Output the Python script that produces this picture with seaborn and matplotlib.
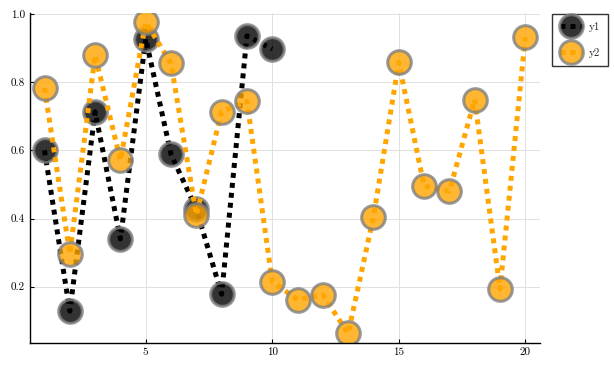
import matplotlib
matplotlib.use('Agg')
import matplotlib.pyplot as plt
import seaborn as sns
import pandas as pd

# Data
x1 = list(range(1, 11))
y1 = [0.600, 0.128, 0.713, 0.340, 0.928, 0.588, 0.428, 0.178, 0.936, 0.897]

x2 = list(range(1, 21))
y2 = [0.783, 0.296, 0.879, 0.571, 0.976, 0.855, 0.411, 0.714, 0.744, 0.215,
      0.162, 0.176, 0.063, 0.405, 0.858, 0.495, 0.480, 0.749, 0.193, 0.932]

xticks = [5, 10, 15, 20]
yticks = [0.2, 0.4, 0.6, 0.8, 1.0]
ytick_labels = ['0.2', '0.4', '0.6', '0.8', '1.0']

sns.set_style('white')
plt.rcParams['font.family'] = ['cmr10', 'DejaVu Serif']
plt.rcParams['axes.unicode_minus'] = False

fig = plt.figure(figsize=(6.14, 3.66), dpi=100)
ax = fig.add_axes([0.049, 0.063, 0.830, 0.901])

df1 = pd.DataFrame({'x': x1, 'y': y1})
df2 = pd.DataFrame({'x': x2, 'y': y2})

common = dict(linestyle=(0, (1, 1)), lw=3.6, marker='o', markersize=17,
              markeredgewidth=2.2, dash_capstyle='butt', ax=ax)

sns.lineplot(data=df1, x='x', y='y', color='black',
             markerfacecolor=(0, 0, 0, 0.8), markeredgecolor=(0.5, 0.5, 0.5, 0.8),
             label='y1', **common)
sns.lineplot(data=df2, x='x', y='y', color='#FFA500',
             markerfacecolor=(1.0, 0.647, 0.0, 0.8), markeredgecolor=(0.5, 0.5, 0.5, 0.8),
             label='y2', **common)

ax.set_xlim(0.43, 20.57)
ax.set_ylim(0.035, 1.0025)
ax.set_xticks(xticks)
ax.set_xticklabels([str(t) for t in xticks])
ax.set_yticks(yticks)
ax.set_yticklabels(ytick_labels)
ax.set_xlabel('')
ax.set_ylabel('')

ax.grid(True, color='#e0e0e0', linewidth=0.7)
ax.tick_params(direction='in', length=3, width=0.8, labelsize=8,
               left=True, bottom=True, colors='black')
for side in ['top', 'right']:
    ax.spines[side].set_visible(False)
for side in ['left', 'bottom']:
    ax.spines[side].set_color('black')
    ax.spines[side].set_linewidth(1.0)

leg = ax.legend(loc='upper left', bbox_to_anchor=(0.899, 0.962),
                bbox_transform=fig.transFigure, fontsize=8, frameon=True,
                fancybox=False, edgecolor='black', handlelength=2.0,
                borderpad=0.75, labelspacing=1.4, handletextpad=0.55,
                borderaxespad=0.0)
leg.get_frame().set_linewidth(1.0)

fig.savefig('out.png', dpi=100)
